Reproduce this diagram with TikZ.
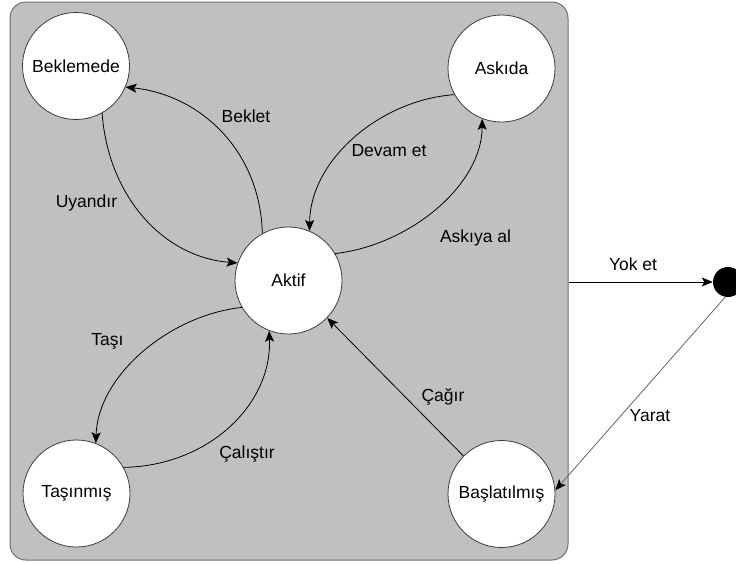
\documentclass[tikz,border=0pt]{standalone}
\usepackage{fontspec}
\setmainfont{Liberation Sans}
\usetikzlibrary{arrows.meta}
\definecolor{panel}{RGB}{192,192,192}
\definecolor{panelline}{RGB}{110,110,110}
\definecolor{ringline}{RGB}{60,60,60}
\definecolor{softline}{RGB}{100,100,100}
\begin{document}
\begin{tikzpicture}[x=1pt,y=-1pt,
  font=\fontsize{17.5}{21}\selectfont,
  state/.style={circle,draw=ringline,fill=white,line width=0.8pt,
                minimum size=107pt,inner sep=0pt},
  flow/.style={draw=black,line width=0.8pt,
               -{Stealth[length=11pt,width=9pt,inset=2.5pt,color=black]}},
  lbl/.style={anchor=base,inner sep=0pt}]
\useasboundingbox (0,0) rectangle (736,563);

% container of the process states
\node[draw=panelline,fill=panel,rounded corners=16pt,line width=1pt,
      minimum width=558pt,minimum height=558pt,inner sep=0pt] (frame) at (289,281) {};

% states
\node[state] (wait)  at (76,66)      {Beklemede};
\node[state] (susp)  at (501.5,68.5) {Askıda};
\node[state] (act)   at (288.5,280.5){Aktif};
\node[state] (moved) at (76.5,493.5) {Taşınmış};
\node[state] (start) at (501.5,494)  {Başlatılmış};
\node[circle,fill=black,minimum size=30pt,inner sep=0pt] (sink) at (728,282) {};

% transitions
\draw[flow] (act.119)  .. controls (260,150) and (200,95)  .. (wait.-23);
\draw[flow] (wait.-61) .. controls (108,195) and (162,257) .. (act.161);
\draw[flow] (susp.209) .. controls (380,100) and (310,160) .. (act.67.5);
\draw[flow] (act.30.6) .. controls (410,245) and (482,185) .. (susp.-111);
\draw[flow] (act.210)  .. controls (170,315) and (98,375)  .. (moved.69);
\draw[flow] (moved.29) .. controls (208,466) and (272,405) .. (act.-111);
\draw[flow] (start.135) -- (act.-44);
\draw[flow] (frame.east |- sink.west) -- (sink.west);
\draw[flow,draw=softline] (sink.-100) -- (start.4);

% transition labels
\node[lbl] (lBeklet)  at (246,122.5)   {Beklet};
\node[lbl] (lUyandir) at (86.5,207)    {Uyandır};
\node[lbl] (lDevam)   at (389,156.7)   {Devam et};
\node[lbl] (lAskiya)  at (475.5,242.7) {Askıya al};
\node[lbl] (lTasi)    at (107.5,345)   {Taşı};
\node[lbl] (lCalis)   at (247,458)     {Çalıştır};
\node[lbl] (lCagir)   at (443,401.7)   {Çağır};
\node[lbl] (lYarat)   at (650,421.7)   {Yarat};
\node[lbl] (lYok)     at (633,270)     {Yok et};
\end{tikzpicture}
\end{document}
